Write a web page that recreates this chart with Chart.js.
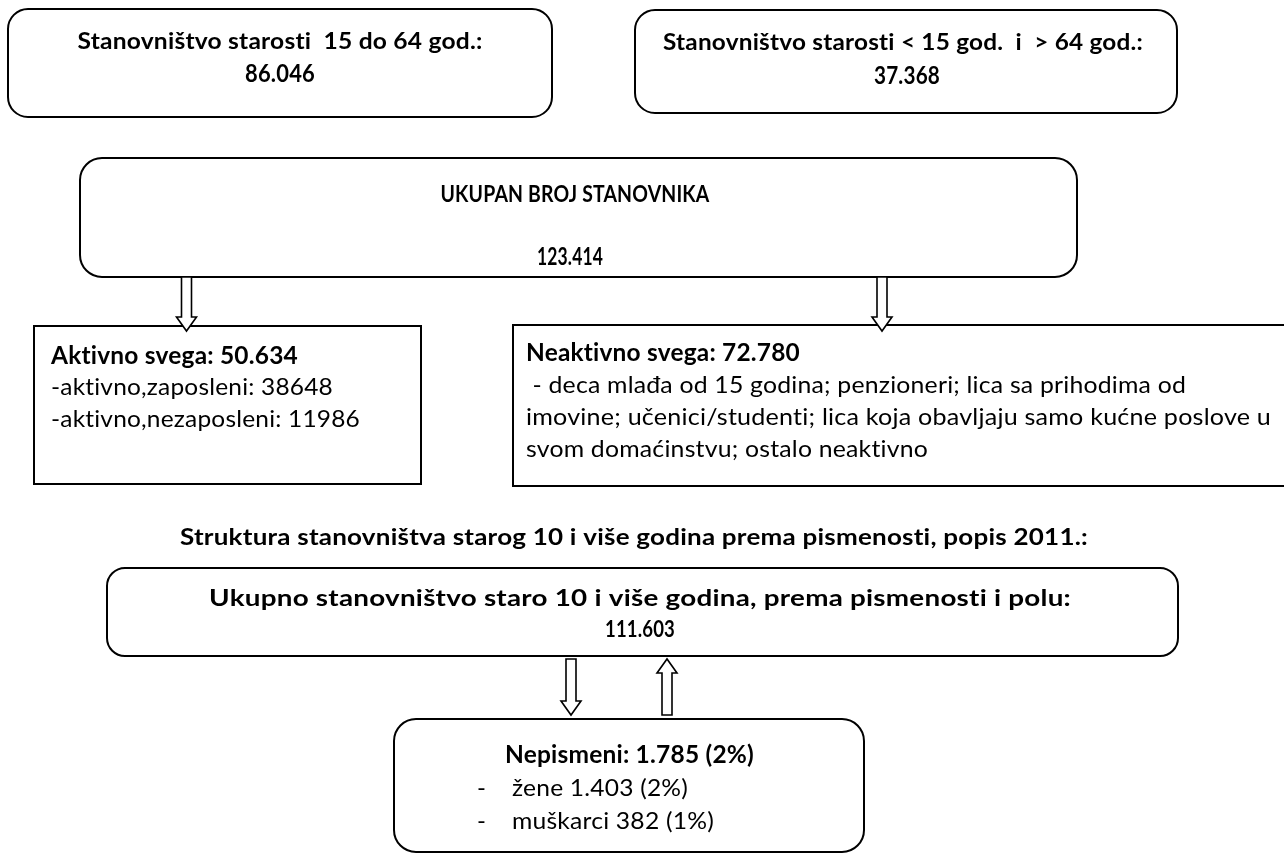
<!DOCTYPE html>
<html>
<head>
<meta charset="utf-8">
<script src="https://cdn.jsdelivr.net/npm/chart.js@4"></script>
<style>
  html, body { margin: 0; padding: 0; background: #fff; }
  #flow { display: block; }
</style>
</head>
<body>
<canvas id="flow" width="1284" height="854"></canvas>
<script>
// data
const ageLabels = ['Stanovništvo starosti  15 do 64 god.:', 'Stanovništvo starosti < 15 god.  i  > 64 god.:'];
const ageValues = [86046, 37368];
const totalLabel = 'UKUPAN BROJ STANOVNIKA';
const totalValue = 123414;
const activityLabels = ['Aktivno svega', 'Neaktivno svega'];
const activityValues = [50634, 72780];
const activeParts = ['-aktivno,zaposleni', '-aktivno,nezaposleni'];
const activePartValues = [38648, 11986];
const inactiveNote = [
    ' - deca mlađa od 15 godina; penzioneri; lica sa prihodima od',
    'imovine; učenici/studenti; lica koja obavljaju samo kućne poslove u',
    'svom domaćinstvu; ostalo neaktivno'
];
const literacyTitle = 'Struktura stanovništva starog 10 i više godina prema pismenosti, popis 2011.:';
const literacyTotalLabel = 'Ukupno stanovništvo staro 10 i više godina, prema pismenosti i polu:';
const literacyTotal = 111603;
const illiterateLabels = ['Nepismeni', 'žene', 'muškarci'];
const illiterateValues = [1785, 1403, 382];
const illiteratePct = [2, 2, 1];

const fmt = n => n.toString().replace(/\B(?=(\d{3})+(?!\d))/g, '.');

// layout (in axis units, 1 unit = 1 px)
const boxes = [
    { x0: 8, y0: 9, x1: 552, y1: 117, r: 20 },
    { x0: 635, y0: 10, x1: 1177, y1: 113, r: 20 },
    { x0: 80, y0: 158, x1: 1077, y1: 277, r: 22 },
    { x0: 34, y0: 326, x1: 421, y1: 484, r: 0 },
    { x0: 513, y0: 325, x1: 1290, y1: 486, r: 0 },
    { x0: 107, y0: 568, x1: 1178, y1: 656, r: 18 },
    { x0: 394, y0: 719, x1: 864, y1: 852, r: 22 }
];
const arrows = [
    { x: 186.5, from: 277, to: 331 },
    { x: 882, from: 277, to: 331 },
    { x: 571, from: 659, to: 715 },
    { x: 667, from: 715, to: 659 }
];

const FONT = 'Lato, "Open Sans", sans-serif';
// text lines: x, y (middle), target width, size, bold, align
const lines = [
    { t: ageLabels[0], x: 280, y: 42, w: 405, s: 23, b: true, a: 'center' },
    { t: fmt(ageValues[0]), x: 280, y: 74, w: 70, s: 24, b: true, a: 'center' },
    { t: ageLabels[1], x: 903, y: 43, w: 480, s: 23, b: true, a: 'center' },
    { t: fmt(ageValues[1]), x: 907, y: 76, w: 66, s: 24, b: true, a: 'center' },
    { t: totalLabel, x: 575, y: 195, w: 269, s: 23, b: true, a: 'center' },
    { t: fmt(totalValue), x: 570, y: 257, w: 66, s: 24, b: true, a: 'center' },
    { t: activityLabels[0] + ': ' + fmt(activityValues[0]), x: 51, y: 356, w: 247, s: 24, b: true, a: 'left' },
    { t: activeParts[0] + ': ' + activePartValues[0], x: 51, y: 387, w: 282, s: 24, b: false, a: 'left' },
    { t: activeParts[1] + ': ' + activePartValues[1], x: 51, y: 419, w: 309, s: 24, b: false, a: 'left' },
    { t: activityLabels[1] + ': ' + fmt(activityValues[1]), x: 526, y: 353, w: 274, s: 24, b: true, a: 'left' },
    { t: inactiveNote[0], x: 526, y: 385, w: 660, s: 24, b: false, a: 'left' },
    { t: inactiveNote[1], x: 526, y: 417, w: 745, s: 24, b: false, a: 'left' },
    { t: inactiveNote[2], x: 526, y: 449, w: 402, s: 24, b: false, a: 'left' },
    { t: literacyTitle, x: 634, y: 538, w: 908, s: 23, b: true, a: 'center' },
    { t: literacyTotalLabel, x: 640, y: 599, w: 862, s: 23, b: true, a: 'center' },
    { t: fmt(literacyTotal), x: 640, y: 630, w: 70, s: 23, b: true, a: 'center' },
    { t: illiterateLabels[0] + ': ' + fmt(illiterateValues[0]) + ' (' + illiteratePct[0] + '%)', x: 505, y: 755, w: 249, s: 24, b: true, a: 'left' },
    { t: '-', x: 477, y: 788, w: 0, s: 24, b: false, a: 'left' },
    { t: illiterateLabels[1] + ' ' + fmt(illiterateValues[1]) + ' (' + illiteratePct[1] + '%)', x: 512, y: 788, w: 176, s: 24, b: false, a: 'left' },
    { t: '-', x: 477, y: 821, w: 0, s: 24, b: false, a: 'left' },
    { t: illiterateLabels[2] + ' ' + fmt(illiterateValues[2]) + ' (' + illiteratePct[2] + '%)', x: 512, y: 821, w: 202, s: 24, b: false, a: 'left' }
];

const flowPlugin = {
    id: 'flow',
    afterDraw(chart) {
        const c = chart.ctx;
        const sx = chart.scales.x, sy = chart.scales.y;
        const px = v => sx.getPixelForValue(v);
        const py = v => sy.getPixelForValue(v);
        c.save();
        c.strokeStyle = '#000';
        c.fillStyle = '#000';

        c.lineWidth = 2;
        boxes.forEach(b => {
            c.beginPath();
            if (b.r > 0) c.roundRect(px(b.x0), py(b.y0), px(b.x1) - px(b.x0), py(b.y1) - py(b.y0), b.r);
            else c.rect(px(b.x0), py(b.y0), px(b.x1) - px(b.x0), py(b.y1) - py(b.y0));
            c.stroke();
        });

        // hollow block arrows
        c.lineWidth = 1.6;
        arrows.forEach(a => {
            const dir = a.to > a.from ? 1 : -1;
            const x = px(a.x), y0 = py(a.from), y1 = py(a.to);
            const sw = 5, hw = 10, hl = 14 * dir;
            c.beginPath();
            c.moveTo(x - sw, y0);
            c.lineTo(x - sw, y1 - hl);
            c.lineTo(x - hw, y1 - hl);
            c.lineTo(x, y1);
            c.lineTo(x + hw, y1 - hl);
            c.lineTo(x + sw, y1 - hl);
            c.lineTo(x + sw, y0);
            c.closePath();
            c.fillStyle = '#fff';
            c.fill();
            c.stroke();
        });

        c.fillStyle = '#000';
        c.textBaseline = 'middle';
        if ('textRendering' in c) c.textRendering = 'optimizeSpeed';
        if ('letterSpacing' in c) c.letterSpacing = '0.2px';
        lines.forEach(l => {
            c.font = (l.b ? 'bold ' : '') + l.s + 'px ' + FONT;
            const m = c.measureText(l.t).width;
            const k = l.w > 0 ? l.w / m : 1;
            c.save();
            c.translate(px(l.x), py(l.y));
            c.scale(k, 1);
            c.textAlign = l.a;
            c.fillText(l.t, 0, 0);
            c.restore();
        });
        c.restore();
    }
};

new Chart(document.getElementById('flow'), {
    type: 'scatter',
    data: { datasets: [] },
    options: {
        responsive: false,
        animation: false,
        layout: { padding: 0 },
        plugins: { legend: { display: false }, tooltip: { enabled: false } },
        scales: {
            x: { type: 'linear', min: 0, max: 1284, display: false },
            y: { type: 'linear', min: 0, max: 854, reverse: true, display: false }
        }
    },
    plugins: [flowPlugin]
});
</script>
</body>
</html>
